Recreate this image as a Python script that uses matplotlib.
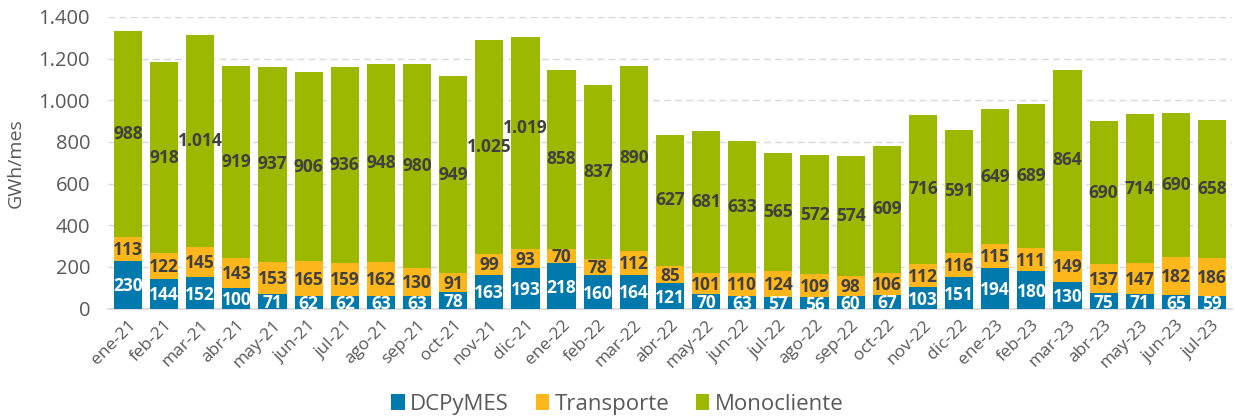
import numpy as np
import matplotlib.pyplot as plt

plt.rcParams['font.family'] = ['Open Sans', 'DejaVu Sans']

meses = ['ene-21', 'feb-21', 'mar-21', 'abr-21', 'may-21', 'jun-21', 'jul-21', 'ago-21',
         'sep-21', 'oct-21', 'nov-21', 'dic-21', 'ene-22', 'feb-22', 'mar-22', 'abr-22',
         'may-22', 'jun-22', 'jul-22', 'ago-22', 'sep-22', 'oct-22', 'nov-22', 'dic-22',
         'ene-23', 'feb-23', 'mar-23', 'abr-23', 'may-23', 'jun-23', 'jul-23']
dcpymes = [230, 144, 152, 100, 71, 62, 62, 63, 63, 78, 163, 193, 218, 160, 164, 121,
           70, 63, 57, 56, 60, 67, 103, 151, 194, 180, 130, 75, 71, 65, 59]
transporte = [113, 122, 145, 143, 153, 165, 159, 162, 130, 91, 99, 93, 70, 78, 112, 85,
              101, 110, 124, 109, 98, 106, 112, 116, 115, 111, 149, 137, 147, 182, 186]
monocliente = [988, 918, 1014, 919, 937, 906, 936, 948, 980, 949, 1025, 1019, 858, 837, 890, 627,
               681, 633, 565, 572, 574, 609, 716, 591, 649, 689, 864, 690, 714, 690, 658]

azul = '#0079AD'
naranja = '#FDB71A'
verde = '#9CB800'
gris = '#595959'


def fmt(v):
    return f'{v:,}'.replace(',', '.')


fig = plt.figure(figsize=(12.35, 4.2), dpi=100)
ax = fig.add_axes([0.0875, 0.265, 0.91, 0.695])

x = np.arange(len(meses))
d = np.array(dcpymes)
t = np.array(transporte)
m = np.array(monocliente)
w = 0.78

b1 = ax.bar(x, d, w, color=azul, label='DCPyMES', zorder=3)
b2 = ax.bar(x, t, w, bottom=d, color=naranja, label='Transporte', zorder=3)
b3 = ax.bar(x, m, w, bottom=d + t, color=verde, label='Monocliente', zorder=3)

# las etiquetas de nov-21 y dic-21 se pisan: subir un poco la de dic-21
ajuste = {11: 70}

for i in range(len(x)):
    ax.text(x[i], d[i] / 2 - 8, fmt(d[i]), ha='center', va='center', color='white',
            fontsize=12.5, fontweight='bold', zorder=4)
    ax.text(x[i], d[i] + t[i] / 2 - 5, fmt(t[i]), ha='center', va='center', color='#404040',
            fontsize=12.5, fontweight='bold', zorder=4)
    ax.text(x[i], d[i] + t[i] + m[i] / 2 + ajuste.get(i, 0), fmt(m[i]), ha='center',
            va='center', color='#404040', fontsize=12.5, fontweight='bold', zorder=4)

ax.set_ylim(0, 1400)
ax.set_xlim(-0.55, len(x) - 0.45)
yt = np.arange(0, 1401, 200)
ax.set_yticks(yt)
ax.set_yticklabels([fmt(v) for v in yt], color=gris, fontsize=14.5)
ax.set_xticks(x)
ax.set_xticklabels(meses, rotation=45, ha='right', rotation_mode='anchor',
                   color=gris, fontsize=12.5)
ax.tick_params(axis='both', length=0)
ax.tick_params(axis='y', pad=13)
ax.tick_params(axis='x', pad=6)
ax.set_ylabel('GWh/mes', color=gris, fontsize=14, labelpad=10)

ax.grid(axis='y', color='#D9D9D9', linestyle=(0, (5, 3)), linewidth=1, zorder=0)
for s in ['top', 'right', 'left']:
    ax.spines[s].set_visible(False)
ax.spines['bottom'].set_color('#D9D9D9')
ax.spines['bottom'].set_linewidth(1.2)

fig.legend(handles=[b1, b2, b3], loc='lower center', bbox_to_anchor=(0.5, -0.035), ncol=3,
           frameon=False, fontsize=16, handlelength=0.6, handleheight=0.7,
           handletextpad=0.25, columnspacing=1.2, labelcolor=gris)

fig.savefig('out.png', dpi=100)
